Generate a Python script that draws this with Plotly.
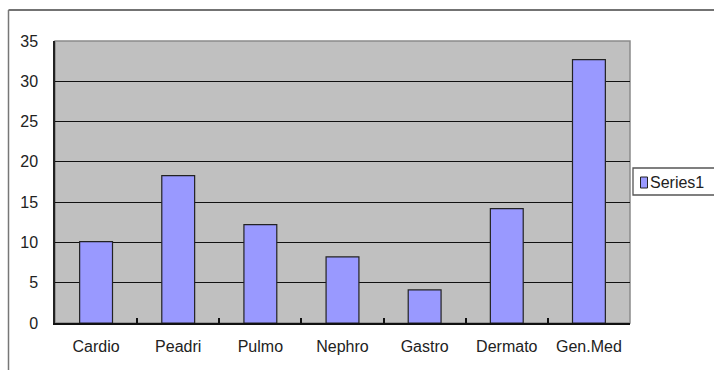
import plotly.graph_objects as go

# Department counts
departments = ["Cardio", "Peadri", "Pulmo", "Nephro", "Gastro", "Dermato", "Gen.Med"]
series1 = [10.1, 18.3, 12.2, 8.2, 4.1, 14.2, 32.7]
series_name = "Series1"
y_ticks = [0, 5, 10, 15, 20, 25, 30, 35]

W, H = 714, 370
ML, MR, MT, MB = 55, 84, 41, 47
PW, PH = W - ML - MR, H - MT - MB

BAR_FILL = "#9999FF"
FONT = dict(family="Liberation Sans, Arial, sans-serif", size=16, color="#222222")


def px(x):
    """Pixel x -> paper x."""
    return (x - ML) / PW


def py(y):
    """Pixel y (from top) -> paper y."""
    return (H - MB - y) / PH


fig = go.Figure(
    go.Bar(
        x=departments,
        y=series1,
        name=series_name,
        width=0.4,
        marker=dict(color=BAR_FILL, line=dict(color="#222222", width=1.2)),
        showlegend=False,
    )
)

shapes = [
    # plot-area frame
    dict(type="rect", xref="paper", yref="paper", x0=0, x1=1, y0=0, y1=1,
         line=dict(color="#8a8a8a", width=1.5), layer="below"),
    # chart-area frame (top and left edges)
    dict(type="line", xref="paper", yref="paper", x0=px(8.5), x1=px(W + 5),
         y0=py(10), y1=py(10), line=dict(color="#444444", width=1.5)),
    dict(type="line", xref="paper", yref="paper", x0=px(8.5), x1=px(8.5),
         y0=py(10), y1=py(H + 5), line=dict(color="#777777", width=1.5)),
    # legend box
    dict(type="rect", xref="paper", yref="paper", x0=px(633), x1=px(W + 10),
         y0=py(195), y1=py(168), line=dict(color="#555555", width=1.3),
         fillcolor="white"),
    # legend swatch
    dict(type="rect", xref="paper", yref="paper", x0=px(640.5), x1=px(647.5),
         y0=py(188), y1=py(177), line=dict(color="#222222", width=1),
         fillcolor=BAR_FILL),
]

annotations = [
    dict(text=series_name, xref="paper", yref="paper", x=px(648), y=py(182.5),
         xanchor="left", yanchor="middle", showarrow=False, font=FONT),
]

fig.update_layout(
    width=W,
    height=H,
    margin=dict(l=ML, r=MR, t=MT, b=MB, pad=0),
    paper_bgcolor="white",
    plot_bgcolor="#C0C0C0",
    font=FONT,
    bargap=0.6,
    shapes=shapes,
    annotations=annotations,
    xaxis=dict(
        showgrid=False,
        showline=True,
        linecolor="#111111",
        linewidth=1.5,
        ticks="inside",
        tickson="boundaries",
        ticklen=5,
        tickcolor="#111111",
        tickwidth=1.5,
        ticklabelstandoff=8,
        tickfont=FONT,
        fixedrange=True,
    ),
    yaxis=dict(
        range=[0, 35],
        tickvals=y_ticks,
        showgrid=True,
        gridcolor="#111111",
        gridwidth=1.3,
        zeroline=False,
        showline=True,
        linecolor="#222222",
        linewidth=1.5,
        ticks="",
        ticklabelstandoff=12,
        tickfont=FONT,
        fixedrange=True,
    ),
)

fig.write_html("out.html")
